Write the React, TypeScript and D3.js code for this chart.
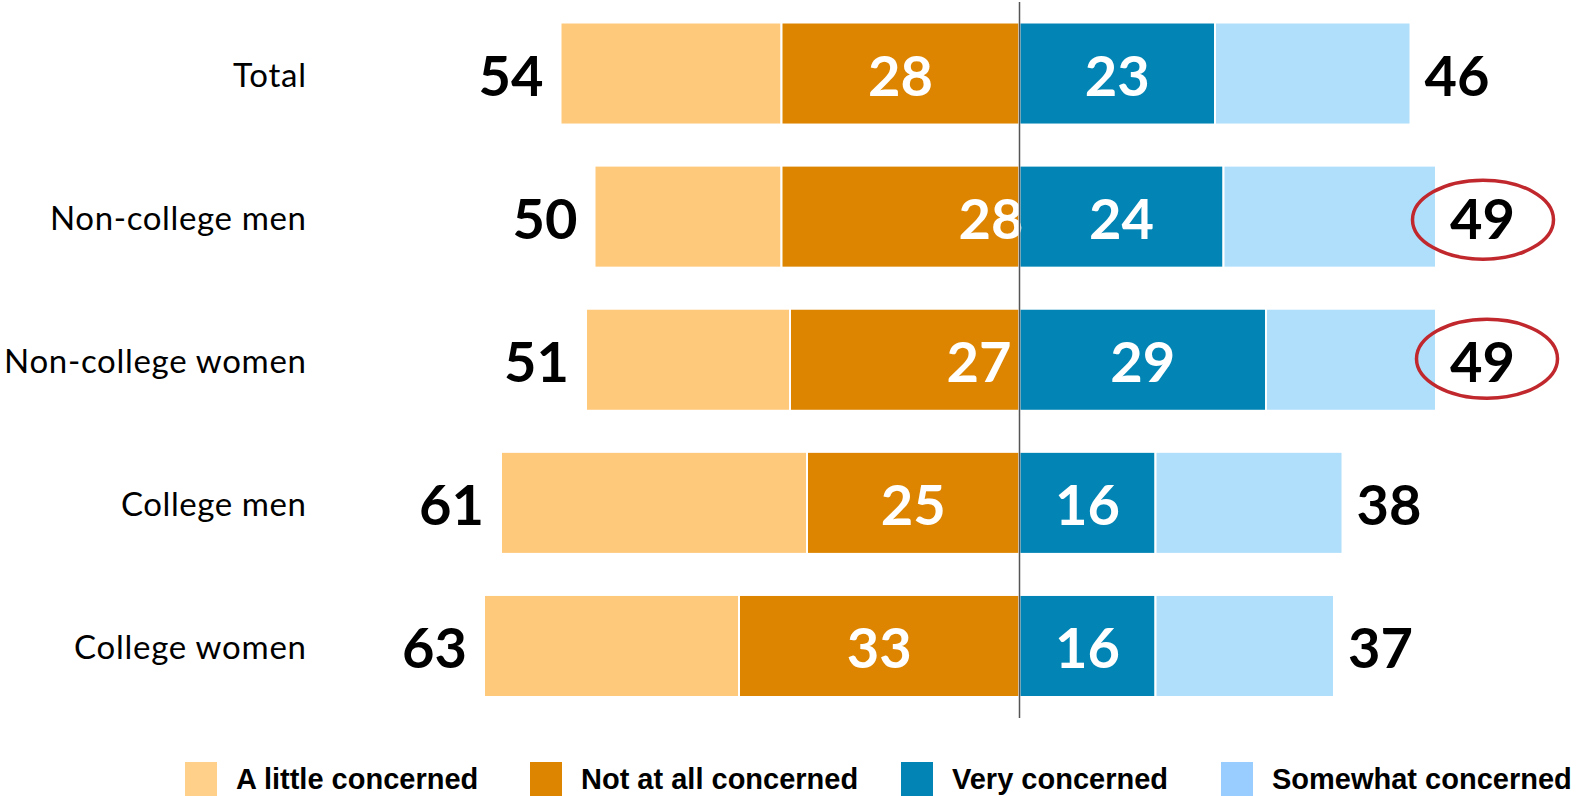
import React from "react";
import * as d3 from "d3";

const categories = ["Total", "Non-college men", "Non-college women", "College men", "College women"];
const littleConcerned = [26, 22, 24, 36, 30];
const notAtAllConcerned = [28, 28, 27, 25, 33];
const veryConcerned = [23, 24, 29, 16, 16];
const somewhatConcerned = [23, 25, 20, 22, 21];
const leftTotals = [54, 50, 51, 61, 63];
const rightTotals = [46, 49, 49, 38, 37];
const highlighted = ["Non-college men", "Non-college women"];
const legendLabels = ["A little concerned", "Not at all concerned", "Very concerned", "Somewhat concerned"];

const W = 1579;
const H = 796;
const COLORS = {
  little: "#FFC97C",
  notAtAll: "#DD8500",
  very: "#0285B5",
  somewhat: "#B0DFFC",
};
const LEGEND_COLORS = ["#FFD08A", "#DD8500", "#0285B5", "#99CCFF"];
const LEGEND_X = [185, 530, 901, 1221];
const LABEL_WIDTHS: Record<string, number> = {
  "Total": 73,
  "Non-college men": 256,
  "Non-college women": 302,
  "College men": 185,
  "College women": 232,
};
const INNER_OFFSET: Record<string, number> = {
  "Non-college men": 4,
  "Non-college women": -8,
};
const ELLIPSE_DX: Record<string, number> = {
  "Non-college men": 47,
  "Non-college women": 51,
};
const ELLIPSE_DY: Record<string, number> = {
  "Non-college men": 3,
  "Non-college women": -1,
};

export default function App() {
  const x = d3.scaleLinear().domain([-100, 100]).range([1019.5 - 850, 1019.5 + 850]);
  const y = d3.scaleBand<string>().domain(categories).range([22.5, 697]).paddingInner(0.287).paddingOuter(0);
  const bw = y.bandwidth();
  const valueFont = "Lato, 'Open Sans', sans-serif";

  return (
    <svg width={W} height={H} style={{ position: "absolute", left: 0, top: 0, background: "#fff" }}>
      {categories.map((c, i) => {
        const y0 = y(c)!;
        const cy = y0 + bw / 2;
        const xLeft = x(-(littleConcerned[i] + notAtAllConcerned[i]));
        const xMidL = x(-notAtAllConcerned[i]);
        const x0 = x(0);
        const xMidR = x(veryConcerned[i]);
        const xRight = x(veryConcerned[i] + somewhatConcerned[i]);
        const innerOff = INNER_OFFSET[c];
        return (
          <g key={c}>
            <rect x={xLeft} y={y0} width={xMidL - xLeft} height={bw} fill={COLORS.little} stroke="#fff" strokeWidth={2} />
            <rect x={xMidL} y={y0} width={x0 - xMidL} height={bw} fill={COLORS.notAtAll} stroke="#fff" strokeWidth={2} />
            <rect x={x0} y={y0} width={xMidR - x0} height={bw} fill={COLORS.very} stroke="#fff" strokeWidth={2} />
            <rect x={xMidR} y={y0} width={xRight - xMidR} height={bw} fill={COLORS.somewhat} stroke="#fff" strokeWidth={2} />
            <text
              x={306}
              y={cy + 13.5}
              textAnchor="end"
              fontFamily="Lato, 'Open Sans', sans-serif"
              fontSize={33}
              fill="#000"
              textLength={LABEL_WIDTHS[c]}
              lengthAdjust="spacing"
            >
              {c}
            </text>
            <text x={x(-leftTotals[i]) - 17} y={cy + 22} textAnchor="end" fontFamily={valueFont} fontWeight="bold" fontSize={56} fill="#000">
              {leftTotals[i]}
            </text>
            <text x={x(rightTotals[i]) + 14} y={cy + 22} textAnchor="start" fontFamily={valueFont} fontWeight="bold" fontSize={56} fill="#000">
              {rightTotals[i]}
            </text>
            <text
              x={innerOff === undefined ? (xMidL + x0) / 2 : x0 + innerOff}
              y={cy + 22}
              textAnchor={innerOff === undefined ? "middle" : "end"}
              fontFamily={valueFont}
              fontWeight="bold"
              fontSize={56}
              fill="#fff"
            >
              {notAtAllConcerned[i]}
            </text>
            <text x={(x0 + xMidR) / 2} y={cy + 22} textAnchor="middle" fontFamily={valueFont} fontWeight="bold" fontSize={56} fill="#fff">
              {veryConcerned[i]}
            </text>
            {highlighted.includes(c) && (
              <ellipse
                cx={x(rightTotals[i]) + ELLIPSE_DX[c]}
                cy={cy + ELLIPSE_DY[c]}
                rx={70.5}
                ry={39.5}
                fill="none"
                stroke="#C0282D"
                strokeWidth={3.5}
              />
            )}
          </g>
        );
      })}
      <line x1={x(0)} x2={x(0)} y1={2} y2={718} stroke="#555" strokeWidth={1.5} />
      {legendLabels.map((l, i) => (
        <g key={l}>
          <rect x={LEGEND_X[i]} y={762} width={32} height={34} fill={LEGEND_COLORS[i]} />
          <text
            x={LEGEND_X[i] + 51}
            y={789}
            fontFamily="'Liberation Sans', Arial, sans-serif"
            fontWeight="bold"
            fontSize={29}
            fill="#000"
          >
            {l}
          </text>
        </g>
      ))}
    </svg>
  );
}
